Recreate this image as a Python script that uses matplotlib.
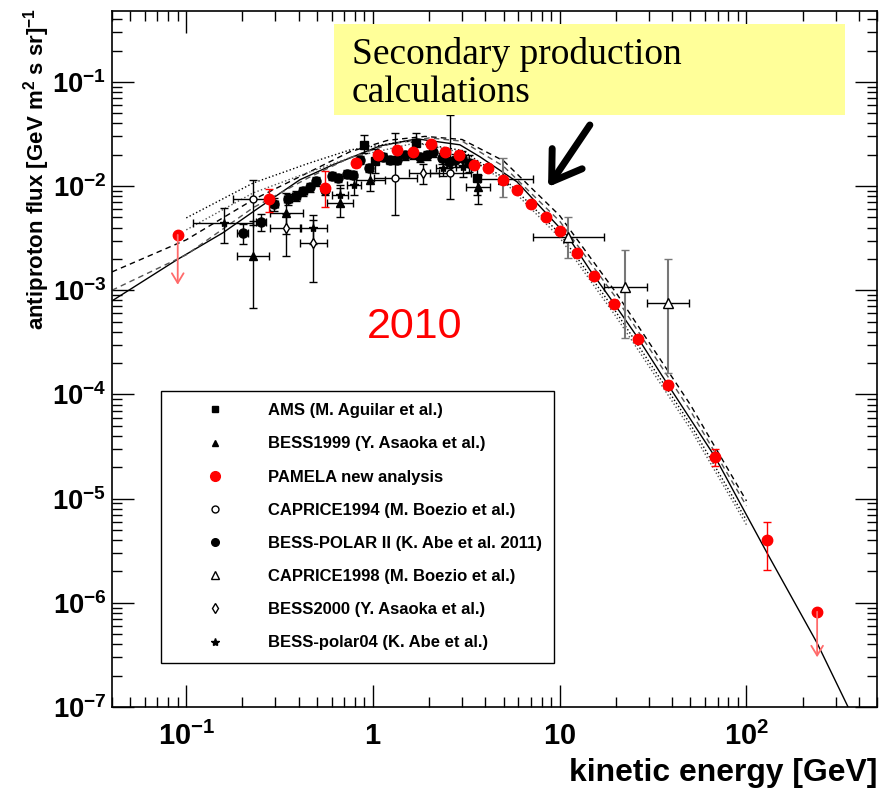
import numpy as np
import matplotlib
matplotlib.use('Agg')
import matplotlib.pyplot as plt
from matplotlib import font_manager as fm
from matplotlib.lines import Line2D
from matplotlib.patches import Rectangle
from matplotlib.ticker import LogLocator, NullFormatter

# ---- data ----
# PAMELA new analysis (red)
pam_E = [0.277, 0.553, 0.81, 1.06, 1.34, 1.64, 2.04, 2.43, 2.89, 3.47, 4.13, 4.97,
         5.9, 7.0, 8.45, 10.0, 12.3, 15.3, 19.5, 26.3, 38.1, 67.8, 129]
pam_F = [7.5e-3, 9.6e-3, 0.0167, 0.0199, 0.0222, 0.0213, 0.0254, 0.0213, 0.0199, 0.0160,
         0.0150, 0.0115, 9.2e-3, 6.7e-3, 5.06e-3, 3.71e-3, 2.29e-3, 1.37e-3, 7.4e-4,
         3.42e-4, 1.24e-4, 2.52e-5, 4.03e-6]
pam_lo = [1.8e-3, 3.3e-3, 1.5e-3, 1.5e-3, 1.5e-3, 1.4e-3, 1.6e-3, 1.4e-3, 1.3e-3, 1.0e-3,
          9e-4, 7e-4, 5e-4, 4e-4, 3e-4, 2.2e-4, 1.4e-4, 9e-5, 5e-5, 2.5e-5, 1.1e-5,
          4.5e-6, 1.96e-6]
pam_hi = [1.9e-3, 4.4e-3, 1.5e-3, 1.5e-3, 1.5e-3, 1.4e-3, 1.6e-3, 1.4e-3, 1.3e-3, 1.0e-3,
          9e-4, 7e-4, 5e-4, 4e-4, 3e-4, 2.2e-4, 1.4e-4, 9e-5, 5e-5, 2.5e-5, 1.2e-5,
          5.0e-6, 2.0e-6]
pam_ul_E = [0.09, 239]
pam_ul_F = [3.4e-3, 8.2e-7]
pam_ul_end = [1.13e-3, 3.0e-7]

# AMS
ams_E = [0.895, 1.02, 1.70, 3.6]
ams_F = [0.0249, 0.0175, 0.0260, 0.0120]
ams_lo = [4.1e-3, 4.0e-3, 5.0e-3, 3.8e-3]
ams_hi = [6.1e-3, 5.0e-3, 6.4e-3, 4.0e-3]

# BESS1999
b99_E = [0.228, 0.342, 0.665, 0.965, 3.65]
b99_F = [2.14e-3, 5.5e-3, 6.9e-3, 0.0115, 9.8e-3]
b99_lo = [1.46e-3, 2.0e-3, 1.9e-3, 2.5e-3, 3.0e-3]
b99_hi = [2.5e-3, 3.0e-3, 2.6e-3, 2.5e-3, 3.0e-3]
b99_xlo = [0.04, 0.06, 0.1, 0.15, 0.5]
b99_xhi = [0.05, 0.08, 0.12, 0.2, 0.6]

# CAPRICE1994
c94_E = [0.228, 1.31, 2.58]
c94_F = [7.5e-3, 0.0120, 0.0134]
c94_lo = [3.3e-3, 6.7e-3, 5.9e-3]
c94_hi = [4.0e-3, 0.020, 0.035]
c94_xlo = [0.05, 0.3, 0.55]
c94_xhi = [0.06, 0.4, 0.75]

# BESS-POLAR II
bp2_E = [0.201, 0.251, 0.295, 0.351, 0.387, 0.422, 0.460, 0.495, 0.553, 0.603, 0.650,
         0.726, 0.781, 0.852, 0.952, 1.13, 1.23, 1.34, 1.48, 1.64, 1.79, 1.95, 2.10,
         2.34, 2.55, 2.75, 3.00, 3.27]
bp2_F = [3.56e-3, 4.53e-3, 6.74e-3, 7.53e-3, 8.05e-3, 9.0e-3, 9.82e-3, 0.0112, 9.2e-3,
         0.0125, 0.0120, 0.0131, 0.0128, 0.0178, 0.0150, 0.0191, 0.0178, 0.0178, 0.0199,
         0.0204, 0.0191, 0.0199, 0.0213, 0.0187, 0.0171, 0.0178, 0.0187, 0.0167]
bp2_rel = [0.22, 0.18, 0.14, 0.12, 0.11, 0.1, 0.1, 0.1, 0.1, 0.09, 0.09, 0.09, 0.09,
           0.09, 0.09, 0.09, 0.09, 0.09, 0.1, 0.1, 0.1, 0.1, 0.11, 0.12, 0.12, 0.14,
           0.15, 0.18]
bp2_relx = [0.07, 0.06, 0.05, 0.05, 0.05, 0.05, 0.04, 0.04, 0.04, 0.04, 0.04, 0.04, 0.04,
            0.04, 0.04, 0.04, 0.04, 0.04, 0.04, 0.04, 0.04, 0.04, 0.04, 0.04, 0.04, 0.04,
            0.04, 0.05]

# CAPRICE1998
c98_E = [4.97, 11.1, 22.4, 38.1]
c98_F = [0.0117, 3.25e-3, 1.08e-3, 7.6e-4]
c98_lo = [3.8e-3, 1.21e-3, 7.3e-4, 6.0e-4]
c98_hi = [7.0e-3, 1.85e-3, 1.37e-3, 1.24e-3]
c98_xlo = [1.23, 3.9, 5.1, 8.7]
c98_xhi = [2.2, 6.2, 7.0, 11.1]

# BESS2000
b00_E = [0.342, 0.477, 1.85]
b00_F = [3.95e-3, 2.85e-3, 0.0134]
b00_lo = [1.8e-3, 1.65e-3, 3.0e-3]
b00_hi = [1.5e-3, 1.85e-3, 3.0e-3]
b00_xlo = [0.06, 0.07, 0.3]
b00_xhi = [0.07, 0.09, 0.4]

# BESS-polar04
bp4_E = [0.159, 0.477, 0.665, 0.79, 2.37, 3.03]
bp4_F = [4.43e-3, 3.95e-3, 8.2e-3, 0.0103, 0.0150, 0.0153]
bp4_lo = [1.58e-3, 1.2e-3, 1.8e-3, 2.0e-3, 2.5e-3, 3.0e-3]
bp4_hi = [1.8e-3, 1.3e-3, 2.0e-3, 2.0e-3, 2.5e-3, 3.0e-3]
bp4_xlo = [0.05, 0.07, 0.06, 0.06, 0.2, 0.25]
bp4_xhi = [0.07, 0.09, 0.07, 0.07, 0.25, 0.3]

# secondary production calculations
sol_E = [0.04, 0.089, 0.157, 0.248, 0.406, 0.61, 1.09, 1.72, 2.92, 3.74, 5.9, 8.15, 11.1,
         14.5, 19.3, 26.0, 35.6, 67.8, 129, 239, 350]
sol_F = [7.9e-4, 1.96e-3, 3.56e-3, 6.3e-3, 0.0115, 0.0160, 0.0243, 0.0284, 0.0249, 0.0191,
         0.0110, 5.9e-3, 3.25e-3, 1.57e-3, 7.7e-4, 3.57e-4, 1.48e-4, 2.52e-5, 3.0e-6,
         4.1e-7, 1.0e-7]
da_E = [0.04, 0.1, 0.228, 0.45, 0.75, 1.2, 1.9, 3.0, 5.0, 10, 20, 50, 100]
da_F = [1.5e-3, 3.05e-3, 7.4e-3, 0.0135, 0.0213, 0.0275, 0.0300, 0.0280, 0.0175, 5.2e-3,
        9.5e-4, 8.0e-5, 9.5e-6]
db_E = [0.04, 0.1, 0.228, 0.45, 0.75, 1.2, 2.0, 3.0, 5.0, 10, 20, 50, 100]
db_F = [1.0e-3, 2.19e-3, 6.2e-3, 0.0120, 0.0187, 0.0250, 0.0290, 0.0270, 0.0155, 4.6e-3,
        8.5e-4, 7.0e-5, 8.5e-6]
ta_E = [0.1, 0.228, 0.45, 0.75, 1.5, 3.0, 5.0, 10, 20, 50, 100]
ta_F = [4.95e-3, 0.0107, 0.0165, 0.0222, 0.0270, 0.0220, 0.0120, 3.5e-3, 6.2e-4, 5.2e-5,
        6.2e-6]
tb_E = [0.1, 0.228, 0.45, 0.75, 1.7, 3.0, 5.0, 10, 20, 50, 100]
tb_F = [3.8e-3, 8.6e-3, 0.0135, 0.0187, 0.0260, 0.0210, 0.0112, 3.2e-3, 5.6e-4, 4.7e-5,
        5.6e-6]

xticks = [0.1, 1, 10, 100]
xtick_labels = [r'$\mathbf{10^{-1}}$', r'$\mathbf{1}$', r'$\mathbf{10}$', r'$\mathbf{10^{2}}$']
yticks = [1e-7, 1e-6, 1e-5, 1e-4, 1e-3, 1e-2, 1e-1]
ytick_labels = [r'$\mathbf{10^{-%d}}$' % n for n in [7, 6, 5, 4, 3, 2, 1]]

legend_labels = ['AMS (M. Aguilar et al.)', 'BESS1999 (Y. Asaoka et al.)',
                 'PAMELA new analysis', 'CAPRICE1994 (M. Boezio et al.)',
                 'BESS-POLAR II (K. Abe et al. 2011)', 'CAPRICE1998 (M. Boezio et al.)',
                 'BESS2000 (Y. Asaoka et al.)', 'BESS-polar04 (K. Abe et al.)']

# ---- fonts ----
names = {f.name for f in fm.fontManager.ttflist}
if 'Liberation Sans Narrow' in names:
    axfont, k = 'Liberation Sans Narrow', 1.0
else:
    axfont, k = 'Liberation Sans', 0.82
plt.rcParams['font.family'] = ['Liberation Sans', 'DejaVu Sans']
plt.rcParams['mathtext.fontset'] = 'custom'
plt.rcParams['mathtext.rm'] = axfont + ':bold'
plt.rcParams['mathtext.it'] = axfont + ':bold'
plt.rcParams['mathtext.bf'] = axfont + ':bold'

fig = plt.figure(figsize=(8.83, 7.9), dpi=100)
ax = fig.add_axes([0.1268, 0.1051, 0.8664, 0.8814])
ax.set_xscale('log')
ax.set_yscale('log')

# curves
ax.plot(sol_E, sol_F, '-', color='k', lw=1.0, zorder=2)
ax.plot(da_E, da_F, '--', color='k', lw=1.0, dashes=(4, 3), zorder=2)
ax.plot(db_E, db_F, '--', color='#555555', lw=1.0, dashes=(4, 3), zorder=2)
ax.plot(ta_E, ta_F, ':', color='k', lw=1.0, zorder=2)
ax.plot(tb_E, tb_F, ':', color='#555555', lw=1.0, zorder=2)

ekw = dict(ls='none', ecolor='k', elinewidth=1.0, capsize=3, capthick=1.0, zorder=3)

def rel(vals, r):
    return [v * q for v, q in zip(vals, r)]

ax.errorbar(bp4_E, bp4_F, yerr=[bp4_lo, bp4_hi], xerr=[bp4_xlo, bp4_xhi], marker='*',
            ms=6, mfc='k', mec='k', **ekw)
ax.errorbar(b00_E, b00_F, yerr=[b00_lo, b00_hi], xerr=[b00_xlo, b00_xhi], marker='d',
            ms=5.5, mfc='white', mec='k', mew=1, **ekw)
ax.errorbar(c94_E, c94_F, yerr=[c94_lo, c94_hi], xerr=[c94_xlo, c94_xhi], marker='o',
            ms=5, mfc='white', mec='k', mew=1, **ekw)
ax.errorbar(c98_E, c98_F, xerr=[c98_xlo, c98_xhi], marker='none', **ekw)
ax.errorbar(c98_E, c98_F, yerr=[c98_lo, c98_hi], marker='^', ms=7, mfc='white', mec='k',
            mew=1, ls='none', ecolor='#777777', elinewidth=1.5, capsize=3, capthick=1.0,
            zorder=3)
ax.errorbar(b99_E, b99_F, yerr=[b99_lo, b99_hi], xerr=[b99_xlo, b99_xhi], marker='^',
            ms=6, mfc='k', mec='k', **ekw)
ax.errorbar(bp2_E, bp2_F, yerr=rel(bp2_F, bp2_rel), xerr=rel(bp2_E, bp2_relx), marker='o',
            ms=6.5, mfc='k', mec='k', **ekw)
ax.errorbar(ams_E, ams_F, yerr=[ams_lo, ams_hi], marker='s', ms=6, mfc='k', mec='k', **ekw)

ax.errorbar(pam_E, pam_F, yerr=[pam_lo, pam_hi], ls='none', marker='o', ms=7.5,
            mfc='#ff0000', mec='#ff0000', ecolor='#ff0000', elinewidth=1, capsize=3,
            zorder=4)
ax.plot(pam_ul_E, pam_ul_F, ls='none', marker='o', ms=7.5, color='#ff0000', zorder=4)
for e, f0, f1 in zip(pam_ul_E, pam_ul_F, pam_ul_end):
    ax.annotate('', xy=(e, f1), xytext=(e, f0),
                arrowprops=dict(arrowstyle='->,head_length=0.5,head_width=0.3',
                                color='#ff6a6a', lw=1.3, mutation_scale=14,
                                shrinkA=0, shrinkB=0), zorder=4)

ax.set_xlim(0.04, 500)
ax.set_ylim(1e-7, 0.483)

ax.set_xticks(xticks)
ax.set_xticklabels(xtick_labels, fontsize=25.5 * k)
ax.set_yticks(yticks)
ax.set_yticklabels(ytick_labels, fontsize=24 * k)
ax.xaxis.set_minor_locator(LogLocator(base=10, subs=np.arange(2, 10), numticks=30))
ax.yaxis.set_minor_locator(LogLocator(base=10, subs=np.arange(2, 10), numticks=30))
ax.xaxis.set_minor_formatter(NullFormatter())
ax.yaxis.set_minor_formatter(NullFormatter())
ax.tick_params(which='both', direction='in', top=True, right=True, width=1.0)
ax.tick_params(which='major', length=16)
ax.tick_params(which='minor', length=7)
ax.tick_params(axis='x', which='major', pad=11)
ax.tick_params(axis='y', which='major', pad=4)
for s in ax.spines.values():
    s.set_linewidth(1.2)

# legend
handles = [
    Line2D([], [], ls='none', marker='s', ms=5, color='k'),
    Line2D([], [], ls='none', marker='^', ms=5, color='k'),
    Line2D([], [], ls='none', marker='o', ms=7, color='#ff0000'),
    Line2D([], [], ls='none', marker='o', ms=5, mfc='white', mec='k'),
    Line2D([], [], ls='none', marker='o', ms=5.5, color='k'),
    Line2D([], [], ls='none', marker='^', ms=5.5, mfc='white', mec='k'),
    Line2D([], [], ls='none', marker='d', ms=5, mfc='white', mec='k'),
    Line2D([], [], ls='none', marker='*', ms=6, color='k'),
]
leg = ax.legend(handles, legend_labels, loc='lower left', bbox_to_anchor=(0.064, 0.0632),
                borderaxespad=0, fancybox=False, framealpha=1, edgecolor='k',
                prop=dict(family='Liberation Sans', weight='bold', size=12),
                handlelength=4.97, handletextpad=0.68, borderpad=0.75, labelspacing=1.09,
                numpoints=1)
leg.get_frame().set_linewidth(1.0)

# axis titles
fig.text(0.041, 0.99, r'antiproton flux [GeV m$^{\mathbf{2}}$ s sr]$^{\mathbf{-1}}$',
         rotation=90, ha='center', va='top', fontsize=19.5 * k, fontweight='bold',
         family=axfont)
fig.text(0.9932, 1 - 773 / 790, 'kinetic energy [GeV]', ha='right', va='center',
         fontsize=28 * k, fontweight='bold', family=axfont)

# annotation box
fig.patches.append(Rectangle((334 / 883, 1 - 115 / 790), 511 / 883, 91 / 790,
                             transform=fig.transFigure, facecolor='#ffff99',
                             edgecolor='none', zorder=5))
fig.text(352 / 883, 1 - 37 / 790, 'Secondary production\ncalculations', ha='left',
         va='top', fontsize=27, family='Liberation Serif', linespacing=1.12, zorder=6)
ax.annotate('', xy=(8.66, 9.8e-3), xytext=(14.5, 0.0386),
            arrowprops=dict(arrowstyle='->,head_length=1.0,head_width=0.65', color='k',
                            lw=5, mutation_scale=20, shrinkA=0, shrinkB=0), zorder=6)

fig.text(0.470, 1 - 327 / 790, '2010', ha='center', va='center', color='#ff0000',
         fontsize=31, family='Liberation Sans')

fig.savefig('out.png', dpi=100)
